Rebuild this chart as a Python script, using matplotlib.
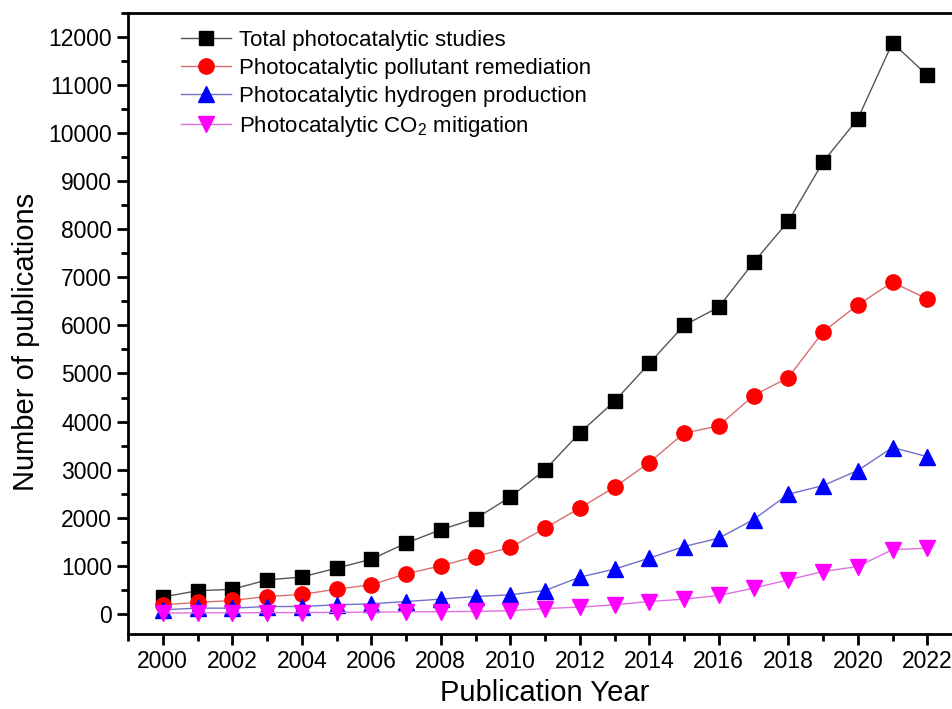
import matplotlib
matplotlib.use("Agg")
import matplotlib.pyplot as plt
from matplotlib.ticker import MultipleLocator

plt.rcParams['font.family'] = ['Liberation Sans', 'DejaVu Sans']
plt.rcParams['mathtext.fontset'] = 'custom'
plt.rcParams['mathtext.rm'] = 'Liberation Sans'

years = list(range(2000, 2023))
total = [350, 480, 510, 705, 765, 950, 1135, 1470, 1750, 1980, 2430, 2995, 3765,
         4420, 5210, 6000, 6380, 7310, 8165, 9400, 10295, 11880, 11205]
pollutant = [187, 236, 277, 360, 402, 513, 603, 832, 998, 1192, 1380, 1782, 2200,
             2635, 3147, 3758, 3910, 4541, 4915, 5865, 6427, 6898, 6552]
hydrogen = [83, 118, 118, 152, 152, 187, 208, 256, 305, 360, 395, 485, 763,
            929, 1158, 1400, 1574, 1960, 2488, 2668, 2981, 3460, 3270]
co2 = [15, 20, 20, 25, 25, 30, 35, 40, 45, 50, 65, 110, 139,
       187, 256, 305, 381, 534, 707, 880, 984, 1335, 1366]

labels = ['Total photocatalytic studies',
          'Photocatalytic pollutant remediation',
          'Photocatalytic hydrogen production',
          r'Photocatalytic CO$_\mathregular{2}$ mitigation']

fig = plt.figure(figsize=(9.52, 7.09), dpi=100)
ax = fig.add_axes([128/952, 75/709, 834/952, 621/709])

ax.plot(years, total, '-', color='#555555', lw=1, marker='s', ms=10,
        mfc='black', mec='black', label=labels[0])
ax.plot(years, pollutant, '-', color='#d87070', lw=1, marker='o', ms=11,
        mfc='red', mec='red', label=labels[1])
ax.plot(years, hydrogen, '-', color='#7070c8', lw=1, marker='^', ms=11,
        mfc='blue', mec='blue', label=labels[2])
ax.plot(years, co2, '-', color='#e070e0', lw=1, marker='v', ms=11,
        mfc='magenta', mec='magenta', label=labels[3])

ax.set_xlim(1999, 2023)
ax.set_ylim(-420, 12500)
ax.xaxis.set_major_locator(MultipleLocator(2))
ax.xaxis.set_minor_locator(MultipleLocator(1))
ax.yaxis.set_major_locator(MultipleLocator(1000))
ax.yaxis.set_minor_locator(MultipleLocator(500))
ax.tick_params(which='both', direction='out', width=2, labelsize=16.5)
ax.tick_params(which='major', length=8)
ax.tick_params(which='minor', length=5)
for s in ax.spines.values():
    s.set_linewidth(2)

ax.set_xlabel('Publication Year', fontsize=21, labelpad=4)
ax.set_ylabel('Number of publications', fontsize=21)
ax.yaxis.set_label_coords(-0.106, 0.47)

ax.legend(loc='upper left', bbox_to_anchor=(0.039, 1.005), frameon=False,
          fontsize=16, handlelength=2.25, handletextpad=0.36, labelspacing=0.31)

fig.savefig('out.png', dpi=100)
